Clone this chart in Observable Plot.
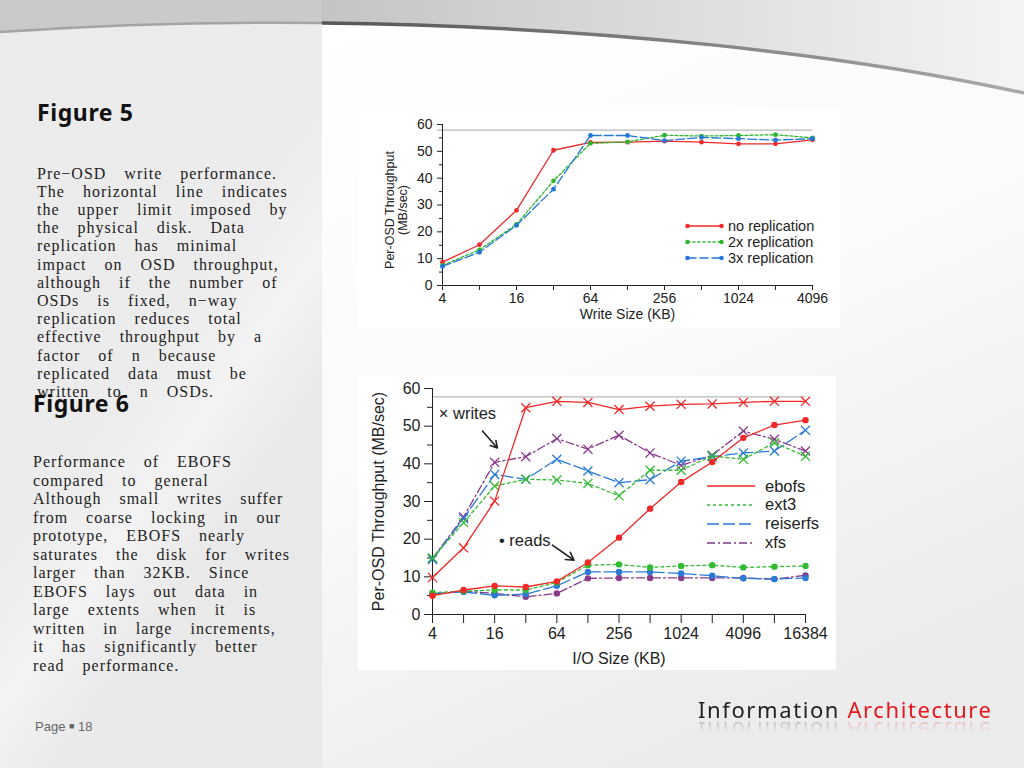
<!DOCTYPE html>
<html><head><meta charset="utf-8">
<script src="https://cdn.jsdelivr.net/npm/d3@7"></script>
<script src="https://cdn.jsdelivr.net/npm/@observablehq/plot@0.6"></script>
<style>
html,body{margin:0;padding:0;}
body{width:1024px;height:768px;position:relative;overflow:hidden;background:#fff;font-family:"Liberation Sans",Arial,sans-serif;}
.abs{position:absolute;}
.heading{font-family:"Noto Sans","Open Sans",sans-serif;font-weight:bold;font-size:23px;letter-spacing:0.6px;line-height:30px;color:#111;}
.para{font-family:"Liberation Serif","DejaVu Serif",serif;font-size:16px;color:#222;letter-spacing:1px;word-spacing:13px;white-space:nowrap;}
.box{background:#fff;}
.leg{font-family:"Liberation Sans",Arial,sans-serif;color:#222;white-space:nowrap;display:flex;align-items:center;}
.brand{font-family:"Noto Sans","Open Sans",sans-serif;font-size:22px;letter-spacing:1.6px;white-space:nowrap;line-height:26px;
  -webkit-box-reflect: below -4px linear-gradient(to bottom, rgba(255,255,255,0) 45%, rgba(255,255,255,0.28) 100%);}
</style>
</head><body>
<svg class="abs" style="left:0;top:0" width="1024" height="768">
  <defs>
    <linearGradient id="hdr" x1="0" x2="1" y1="0" y2="0">
      <stop offset="0" stop-color="#c4c4c4"/><stop offset="1" stop-color="#f4f4f4"/>
    </linearGradient>
    <linearGradient id="crv" x1="0" x2="1" y1="0" y2="0">
      <stop offset="0" stop-color="#555"/><stop offset="1" stop-color="#aaa"/>
    </linearGradient>
    <linearGradient id="rp" x1="0" x2="0.4" y1="0" y2="1">
      <stop offset="0" stop-color="#ffffff"/><stop offset="0.55" stop-color="#fafafa"/><stop offset="1" stop-color="#ececec"/>
    </linearGradient>
    <linearGradient id="lp" x1="0" x2="0.6" y1="0" y2="1">
      <stop offset="0" stop-color="#ebebeb"/><stop offset="0.55" stop-color="#ececec"/><stop offset="0.68" stop-color="#f3f3f3"/><stop offset="0.8" stop-color="#eaeaea"/><stop offset="1" stop-color="#e9e9e9"/>
    </linearGradient>
  </defs>
  <rect x="322" y="0" width="702" height="768" fill="url(#rp)"/>
  <rect x="0" y="0" width="322" height="768" fill="url(#lp)"/>
  <path d="M0,0 H322 V23 Q160,21 0,32 Z" fill="#cacaca"/>
  <path d="M322,0 H1024 V93 C850,55 600,26 322,23 Z" fill="url(#hdr)"/>
  <path d="M0,32 Q160,21 322,23" fill="none" stroke="#a4a4a4" stroke-width="2.5"/>
  <path d="M322,23 C600,26 850,55 1024,93" fill="none" stroke="url(#crv)" stroke-width="3.5"/>
</svg>

<div class="abs heading" style="left:37px;top:97px">Figure 5</div>
<div class="abs para" style="left:37px;top:164.5px;line-height:18.2px">Pre−OSD write performance.<br>The horizontal line indicates<br>the upper limit imposed by<br>the physical disk. Data<br>replication has minimal<br>impact on OSD throughput,<br>although if the number of<br>OSDs is fixed, n−way<br>replication reduces total<br>effective throughput by a<br>factor of n because<br>replicated data must be<br>written to n OSDs.</div>
<div class="abs heading" style="left:33px;top:388px">Figure 6</div>
<div class="abs para" style="left:33px;top:453px;line-height:18.5px">Performance of EBOFS<br>compared to general<br>Although small writes suffer<br>from coarse locking in our<br>prototype, EBOFS nearly<br>saturates the disk for writes<br>larger than 32KB. Since<br>EBOFS lays out data in<br>large extents when it is<br>written in large increments,<br>it has significantly better<br>read performance.</div>
<div class="abs" style="left:35px;top:719px;font-size:13px;color:#666;font-family:'Liberation Sans',Arial,sans-serif">Page <span style="font-size:9px;vertical-align:2px">■</span> 18</div>

<div class="abs brand" style="left:698px;top:696px"><span style="color:#222">Information</span> <span style="color:#e8161c">Architecture</span></div>

<div id="c1" class="abs box" style="left:358px;top:110px;width:482px;height:218px"></div>
<div id="c2" class="abs box" style="left:358px;top:376px;width:478px;height:294px"></div>
<div id="leg1" class="abs"></div>
<div id="leg2" class="abs"></div>

<script>
// ---------- Figure 5 data ----------
const writeSizes = [4, 8, 16, 32, 64, 128, 256, 512, 1024, 2048, 4096];
const writeSizeLabels = [4, 16, 64, 256, 1024, 4096];
const noReplication = [8.7, 15.2, 28.0, 50.4, 53.3, 53.4, 53.8, 53.4, 52.8, 52.8, 54.3];
const replication2x = [7.5, 13.3, 22.8, 39.0, 53.0, 53.5, 56.0, 55.7, 55.9, 56.2, 55.0];
const replication3x = [7.1, 12.4, 22.4, 35.9, 55.9, 55.9, 54.0, 55.2, 54.7, 54.2, 54.7];
const diskLimit1 = 57.9;
const yTicks = [0, 10, 20, 30, 40, 50, 60];
const yMinorTicks = [5, 15, 25, 35, 45, 55];
const fig5Series = ["no replication", "2x replication", "3x replication"];

// ---------- Figure 6 data ----------
const ioSizes = [4, 8, 16, 32, 64, 128, 256, 512, 1024, 2048, 4096, 8192, 16384];
const ioSizeLabels = [4, 16, 64, 256, 1024, 4096, 16384];
const fsNames = ["ebofs", "ext3", "reiserfs", "xfs"];
const writesEbofs    = [9.8, 17.7, 30.1, 54.9, 56.6, 56.3, 54.4, 55.3, 55.8, 55.9, 56.3, 56.6, 56.6];
const writesExt3     = [15.0, 24.4, 34.1, 35.9, 35.7, 34.8, 31.5, 38.3, 38.3, 42.1, 41.2, 45.6, 42.0];
const writesReiserfs = [14.6, 25.5, 37.2, 35.9, 41.2, 38.1, 35.0, 35.8, 40.7, 41.9, 42.9, 43.4, 48.9];
const writesXfs      = [14.9, 25.9, 40.4, 41.9, 46.7, 43.9, 47.6, 42.9, 39.6, 42.3, 48.7, 46.5, 43.4];
const readsEbofs     = [5.0, 6.5, 7.6, 7.3, 8.8, 13.8, 20.4, 28.1, 35.2, 40.5, 46.9, 50.3, 51.6];
const readsExt3      = [5.8, 6.2, 6.5, 6.5, 8.5, 13.1, 13.3, 12.5, 12.9, 13.1, 12.5, 12.7, 12.9];
const readsReiserfs  = [5.6, 6.0, 5.1, 5.4, 7.6, 11.3, 11.3, 11.3, 10.9, 10.3, 9.6, 9.4, 9.7];
const readsXfs       = [5.4, 6.2, 5.6, 4.7, 5.6, 9.6, 9.7, 9.7, 9.7, 9.7, 9.7, 9.4, 10.4];
const diskLimit2 = 57.8;
const writesNote = [{text: "× writes", x: 4.6, y: 53.4}];
const writesArrow = [{x1: 12.2, y1: 48.7, x2: 17.0, y2: 44.2}];
const readsNote = [{text: "• reads", x: 17.6, y: 19.7}];
const readsArrow = [{x1: 58, y1: 18.4, x2: 94, y2: 14.4}];

// ---------- styles ----------
const fig5Styles = [
  {color: "#ee2a2a", dash: null},
  {color: "#2fb52f", dash: "3,2"},
  {color: "#2277d8", dash: "9,3"}
];
const fsStyles = [
  {color: "#f02828", dash: null},
  {color: "#33bb33", dash: "3,3"},
  {color: "#2a7ad6", dash: "12,4"},
  {color: "#8a3a8a", dash: "8,3,2,3"}
];
const font = "Liberation Sans, Arial, Helvetica, sans-serif";

// ---------- Figure 5 ----------
const fig5Values = [noReplication, replication2x, replication3x];
const fig5Table = fig5Series.map((name, i) => writeSizes.map((s, j) => ({series: name, size: s, value: fig5Values[i][j]})));

const marks1 = [
  Plot.ruleY([diskLimit1], {stroke: "#b8b8b8", strokeWidth: 1.2, insetLeft: -5}),
  Plot.axisY({ticks: yTicks, tickSize: 5, tickPadding: 5, label: null, fontSize: 14}),
  Plot.axisY({ticks: yMinorTicks, tickSize: 3, tickFormat: () => "", label: null}),
  Plot.axisX({ticks: writeSizes, tickSize: 5, tickPadding: 3, fontSize: 14, label: null,
    tickFormat: d => writeSizeLabels.includes(d) ? String(d) : ""}),
  Plot.ruleX([writeSizes[0]], {stroke: "#222"}),
  Plot.ruleY([0], {stroke: "#222"})
];
fig5Table.forEach((rows, i) => {
  const st = fig5Styles[i];
  marks1.push(Plot.line(rows, {x: "size", y: "value", stroke: st.color, strokeWidth: 1.3, strokeDasharray: st.dash}));
  marks1.push(Plot.dot(rows, {x: "size", y: "value", fill: st.color, r: 2.4}));
});
marks1.push(Plot.text(["Per-OSD Throughput\n(MB/sec)"], {text: d => d, frameAnchor: "left", rotate: -90, dx: -46, dy: 5, lineAnchor: "middle", textAnchor: "middle", fontSize: 12.5, fill: "#222"}));
marks1.push(Plot.text(["Write Size (KB)"], {text: d => d, frameAnchor: "bottom", dy: 29, lineAnchor: "middle", fontSize: 14, fill: "#222"}));

const p1 = Plot.plot({
  width: 482, height: 218,
  marginLeft: 84, marginRight: 28, marginTop: 14, marginBottom: 43,
  x: {type: "log", base: 2, domain: [4, 4096]},
  y: {domain: [0, 60]},
  style: {fontFamily: font, fontSize: "14px", color: "#222", background: "transparent", overflow: "visible"},
  marks: marks1
});
document.getElementById("c1").appendChild(p1);

// ---------- Figure 6 ----------
const writesBy = [writesEbofs, writesExt3, writesReiserfs, writesXfs];
const readsBy = [readsEbofs, readsExt3, readsReiserfs, readsXfs];
const marks2 = [
  Plot.ruleY([diskLimit2], {stroke: "#b8b8b8", strokeWidth: 1.2}),
  Plot.axisY({ticks: yTicks, tickSize: 8, tickPadding: 4, label: null, fontSize: 16}),
  Plot.axisY({ticks: yMinorTicks, tickSize: 5, tickFormat: () => "", label: null}),
  Plot.axisX({ticks: ioSizes, tickSize: 9, tickPadding: 4, fontSize: 16, label: null,
    tickFormat: d => ioSizeLabels.includes(d) ? String(d) : ""}),
  Plot.ruleX([ioSizes[0]], {stroke: "#222"}),
  Plot.ruleY([0], {stroke: "#222"})
];
const order = [3, 2, 1, 0];
order.forEach(i => {
  const st = fsStyles[i];
  const w = ioSizes.map((s, j) => ({fs: fsNames[i], size: s, value: writesBy[i][j]}));
  const r = ioSizes.map((s, j) => ({fs: fsNames[i], size: s, value: readsBy[i][j]}));
  marks2.push(Plot.line(w, {x: "size", y: "value", stroke: st.color, strokeWidth: 1.3, strokeDasharray: st.dash}));
  marks2.push(Plot.dot(w, {x: "size", y: "value", stroke: st.color, symbol: "times", r: 4.2, strokeWidth: 1.3}));
  marks2.push(Plot.line(r, {x: "size", y: "value", stroke: st.color, strokeWidth: 1.3, strokeDasharray: st.dash}));
  marks2.push(Plot.dot(r, {x: "size", y: "value", fill: st.color, r: 3.2}));
});
marks2.push(Plot.text(writesNote, {x: "x", y: "y", text: "text", textAnchor: "start", fontSize: 16.5, fill: "#222"}));
marks2.push(Plot.arrow(writesArrow, {x1: "x1", y1: "y1", x2: "x2", y2: "y2", stroke: "#222", strokeWidth: 1.6, headLength: 9}));
marks2.push(Plot.text(readsNote, {x: "x", y: "y", text: "text", textAnchor: "start", fontSize: 16.5, fill: "#222"}));
marks2.push(Plot.arrow(readsArrow, {x1: "x1", y1: "y1", x2: "x2", y2: "y2", stroke: "#222", strokeWidth: 1.6, headLength: 9}));
marks2.push(Plot.text(["Per-OSD Throughput (MB/sec)"], {text: d => d, frameAnchor: "left", rotate: -90, dx: -54, lineAnchor: "middle", textAnchor: "middle", fontSize: 16, fill: "#222"}));
marks2.push(Plot.text(["I/O Size (KB)"], {text: d => d, frameAnchor: "bottom", dy: 44, lineAnchor: "middle", fontSize: 16, fill: "#222"}));

const p2 = Plot.plot({
  width: 478, height: 294,
  marginLeft: 74, marginRight: 31, marginTop: 12, marginBottom: 56,
  x: {type: "log", base: 2, domain: [4, 16384]},
  y: {domain: [0, 60]},
  style: {fontFamily: font, fontSize: "16px", color: "#222", background: "transparent", overflow: "visible"},
  marks: marks2
});
document.getElementById("c2").appendChild(p2);

// ---------- legends ----------
function swatch(w, h, st, dots) {
  const ns = "http://www.w3.org/2000/svg";
  const svg = document.createElementNS(ns, "svg");
  svg.setAttribute("width", w); svg.setAttribute("height", h);
  const ln = document.createElementNS(ns, "line");
  ln.setAttribute("x1", dots ? 2.5 : 0); ln.setAttribute("x2", dots ? w - 2.5 : w);
  ln.setAttribute("y1", h / 2); ln.setAttribute("y2", h / 2);
  ln.setAttribute("stroke", st.color); ln.setAttribute("stroke-width", 1.4);
  if (st.dash) ln.setAttribute("stroke-dasharray", st.dash);
  svg.appendChild(ln);
  if (dots) [2.5, w - 2.5].forEach(cx => {
    const c = document.createElementNS(ns, "circle");
    c.setAttribute("cx", cx); c.setAttribute("cy", h / 2); c.setAttribute("r", 2.3); c.setAttribute("fill", st.color);
    svg.appendChild(c);
  });
  return svg;
}
const leg1 = document.getElementById("leg1");
fig5Series.forEach((name, i) => {
  const row = document.createElement("div");
  row.className = "abs leg";
  row.style.left = "685px"; row.style.top = (218 + i * 16.2) + "px"; row.style.height = "16px"; row.style.fontSize = "14.5px";
  row.appendChild(swatch(39, 16, fig5Styles[i], true));
  const t = document.createElement("span"); t.textContent = name; t.style.marginLeft = "4px";
  row.appendChild(t);
  leg1.appendChild(row);
});
const leg2 = document.getElementById("leg2");
fsNames.forEach((name, i) => {
  const row = document.createElement("div");
  row.className = "abs leg";
  row.style.left = "707px"; row.style.top = (476 + i * 18.9) + "px"; row.style.height = "20px"; row.style.fontSize = "16.5px";
  row.appendChild(swatch(48, 20, fsStyles[i], false));
  const t = document.createElement("span"); t.textContent = name; t.style.marginLeft = "10px";
  row.appendChild(t);
  leg2.appendChild(row);
});
</script>
</body></html>
